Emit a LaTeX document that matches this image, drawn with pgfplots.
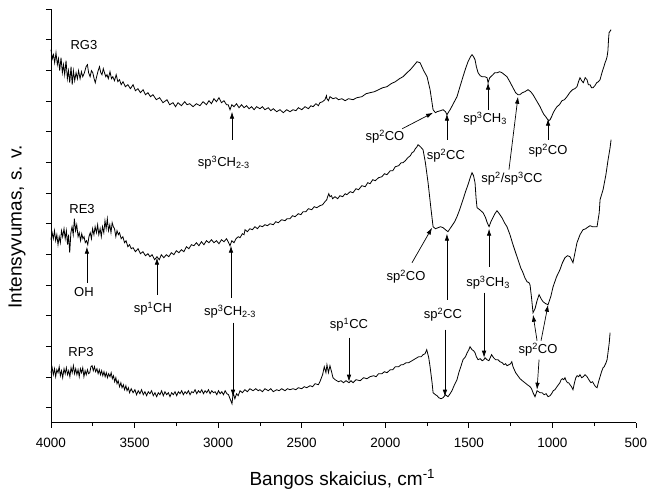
\documentclass[border=0pt]{standalone}
\usepackage{fontspec}
\setmainfont{Liberation Sans}
\usepackage{pgfplots}
\pgfplotsset{compat=1.18}
\usetikzlibrary{arrows.meta}

\newcommand{\ann}{\fontsize{13}{15}\selectfont}

\begin{document}
\begin{tikzpicture}
\begin{axis}[
  name=ax,
  scale only axis,
  width=585pt, height=413.7pt,
  x dir=reverse,
  xmin=500, xmax=4000,
  ymin=0, ymax=413.7,
  axis x line*=bottom,
  axis y line*=left,
  axis line style={-, line width=0.8pt},
  xtick={500,1000,...,4000},
  minor x tick num=1,
  ytick={15.0,45.7,76.4,107.0,137.7,168.4,199.0,229.7,260.4,291.0,321.7,352.4,383.0,413.7},
  minor y tick num=1,
  yticklabels={},
  tick align=outside,
  major tick length=5pt,
  minor tick length=3.5pt,
  tick style={line width=0.8pt, black},
  scaled x ticks=false,
  /pgf/number format/assume math mode=true,
  /pgf/number format/1000 sep={},
  xticklabel style={font=\fontsize{13.5}{16}\selectfont, yshift=-7pt},
  xlabel={Bangos skaicius, cm\textsuperscript{-1}},
  ylabel={Intensyvumas, s. v.},
  label style={font=\fontsize{19}{22}\selectfont},
  xlabel style={at={(axis description cs:0.498,-0.1506)}, anchor=base},
  ylabel style={at={(axis description cs:-0.0581,0.473)}, anchor=center},
  clip=false,
]

% RG3 spectrum
\addplot[black, line width=0.8pt] table {
4000 373
3992 364
3985 368
3978 360
3970 370
3962 358
3955 364
3948 352
3940 365
3932 350
3925 358
3918 348
3910 362
3902 344
3895 352
3888 340
3880 356
3873 338
3866 352
3858 342
3850 350
3842 344
3835 352
3826 344
3818 351
3810 346
3800 350
3790 356
3782 358
3775 350
3766 346
3758 352
3750 350
3742 344
3735 340
3727 346
3718 352
3710 356
3702 350
3695 348
3687 354
3680 350
3672 346
3665 348
3657 344
3647 351
3638 344
3630 346
3620 342
3610 348
3600 341
3590 343
3580 338
3569 341
3555 336
3540 338
3525 334
3509 338
3495 332
3480 334
3465 330
3449 333
3435 328
3420 330
3405 326
3390 328
3370 323
3350 325
3330 320
3306 323
3290 318
3270 320
3255 316
3240 320
3220 317
3200 321
3186 318
3170 319
3150 316
3130 319
3109 317
3090 321
3070 318
3055 322
3040 319
3025 324
3010 321
2995 325
2980 320
2965 322
2950 318
2940 318
2929 313
2918 318
2905 316
2890 319
2875 315
2860 318
2845 315
2830 317
2815 314
2800 316
2785 313
2770 316
2750 314
2735 316
2720 313
2700 315
2685 312
2670 314
2650 311
2630 313
2610 310
2590 313
2570 311
2552 313
2535 312
2520 315
2500 313
2480 316
2460 314
2445 317
2432 316
2415 319
2400 317
2391 320
2375 321
2361 323
2352 327
2349 324
2340 322
2331 326
2313 324
2295 325
2280 323
2260 324
2240 322
2220 324
2193 323
2170 325
2140 326
2115 329
2091 330
2065 331
2040 333
2015 335
1990 336
1965 339
1940 341
1915 344
1894 346
1870 350
1850 353
1830 357
1810 361
1792 360
1770 352
1750 346
1732 333
1714 313
1700 310
1690 311
1670 312
1654 313
1640 311
1631 308
1620 311
1612 313
1590 320
1571 326
1555 335
1535 346
1520 354
1505 361
1490 366
1481 368
1472 366
1463 363
1455 356
1445 350
1432 347
1420 346
1405 346
1391 345
1385 340
1375 345
1356 348
1345 350
1330 350
1316 351
1302 350
1287 348
1272 346
1255 341
1236 335
1220 330
1206 328
1195 328
1180 330
1165 331
1146 333
1130 331
1116 328
1095 322
1074 316
1060 311
1050 308
1040 306
1032 304
1022 302
1014 303
1005 306
995 310
985 313
973 316
958 318
943 322
928 323
913 326
897 330
880 333
866 334
853 336
844 341
835 345
825 342
815 340
804 345
793 343
785 338
775 338
766 335
757 335
746 337
735 340
725 341
715 343
707 348
700 352
692 356
685 360
678 363
673 366
668 372
664 384
661 390
649 393
};

% RE3 spectrum
\addplot[black, line width=0.8pt] table {
4000 183
3993 190
3986 184
3979 192
3972 182
3965 188
3958 178
3951 186
3944 180
3937 192
3930 186
3922 194
3915 184
3908 192
3901 178
3895 188
3888 170
3881 190
3874 196
3867 188
3860 204
3853 192
3846 198
3838 186
3831 190
3823 182
3816 189
3809 184
3802 186
3795 180
3787 182
3780 178
3773 186
3765 190
3758 184
3751 194
3743 188
3736 196
3728 190
3721 198
3714 188
3706 194
3699 186
3692 196
3684 190
3677 202
3670 194
3663 204
3656 192
3648 198
3641 190
3634 200
3627 196
3620 194
3612 186
3605 192
3597 188
3590 190
3580 184
3570 186
3560 180
3551 182
3540 176
3530 178
3520 174
3509 175
3495 171
3479 174
3465 169
3450 171
3435 167
3420 169
3408 166
3395 168
3380 163
3366 166
3352 163
3340 168
3325 165
3310 168
3295 166
3280 170
3265 168
3250 172
3235 170
3220 173
3205 171
3190 176
3175 174
3160 178
3145 177
3130 180
3115 177
3100 181
3085 178
3070 182
3055 180
3040 183
3025 180
3010 182
2995 179
2980 183
2965 181
2950 184
2940 181
2929 177
2918 182
2905 180
2893 184
2880 186
2869 185
2855 189
2845 188
2839 193
2825 191
2810 194
2795 193
2780 196
2765 194
2750 197
2735 196
2720 198
2705 197
2690 199
2670 198
2655 201
2640 200
2620 203
2600 202
2588 204
2570 204
2555 207
2540 206
2520 209
2505 208
2492 211
2475 211
2460 214
2440 213
2425 216
2410 215
2391 217
2375 218
2361 221
2350 223
2345 226
2338 229
2331 226
2322 227
2315 224
2301 226
2285 224
2271 227
2255 226
2240 229
2230 228
2210 231
2193 230
2175 234
2160 233
2140 237
2120 236
2105 240
2091 239
2075 243
2060 242
2040 245
2020 246
2005 249
1990 248
1970 252
1955 252
1940 256
1920 257
1905 260
1894 260
1880 262
1865 265
1850 267
1840 270
1830 271
1820 274
1810 276
1804 278
1790 276
1774 273
1760 260
1744 240
1726 213
1714 196
1700 194
1684 195
1670 196
1654 195
1640 193
1625 191
1613 194
1601 197
1585 201
1571 206
1555 213
1535 223
1520 231
1505 238
1490 246
1481 250
1472 247
1463 240
1457 225
1451 215
1435 213
1415 210
1400 205
1390 200
1379 196
1368 201
1356 205
1344 209
1332 212
1318 209
1302 205
1287 200
1272 196
1254 188
1236 178
1220 170
1206 163
1190 155
1176 150
1165 145
1152 141
1140 140
1134 138
1125 125
1116 110
1104 114
1092 122
1080 128
1068 124
1056 121
1040 119
1026 118
1010 126
996 136
975 146
955 153
940 160
925 165
910 167
895 166
877 160
865 170
853 180
835 188
817 193
800 194
793 195
775 197
760 196
745 196
733 196
720 210
715 223
697 233
680 248
667 263
655 275
649 283
};

% RP3 spectrum
\addplot[black, line width=0.8pt] table {
4000 50
3993 55
3986 48
3979 54
3972 46
3965 53
3958 50
3951 56
3944 47
3937 52
3930 45
3922 54
3915 49
3908 55
3901 48
3894 52
3887 46
3880 55
3873 50
3866 57
3859 49
3852 54
3845 48
3838 53
3831 46
3824 54
3817 50
3810 55
3803 46
3796 52
3789 48
3782 53
3775 49
3768 50
3761 56
3754 57
3747 52
3740 56
3733 51
3725 54
3718 49
3711 53
3704 48
3697 52
3690 47
3683 51
3676 46
3669 50
3662 45
3655 49
3647 46
3640 50
3633 44
3626 47
3619 41
3612 45
3605 39
3598 42
3590 36
3582 40
3575 35
3567 38
3560 33
3552 37
3545 32
3537 35
3530 30
3520 34
3509 30
3498 33
3488 28
3478 32
3468 29
3458 33
3448 28
3438 31
3428 27
3418 31
3408 29
3398 32
3388 27
3378 30
3368 26
3358 30
3348 28
3338 32
3328 27
3318 31
3308 28
3298 30
3288 26
3278 30
3268 28
3258 31
3248 27
3238 31
3228 29
3218 32
3208 28
3198 31
3188 29
3178 32
3168 28
3158 31
3148 30
3138 33
3128 29
3118 32
3108 30
3098 33
3088 29
3078 32
3068 30
3058 33
3048 29
3038 32
3028 30
3018 31
3008 28
2998 32
2988 29
2978 31
2968 28
2958 32
2948 29
2938 28
2929 24
2917 19
2910 30
2900 24
2890 29
2880 27
2869 32
2855 30
2840 33
2825 31
2810 34
2791 32
2775 34
2760 32
2750 33
2735 31
2720 34
2700 32
2685 34
2670 31
2650 33
2635 32
2620 34
2600 32
2585 34
2570 33
2552 34
2535 33
2520 35
2500 34
2485 36
2470 35
2450 37
2435 36
2420 39
2400 38
2391 41
2375 48
2365 56
2355 50
2349 58
2340 50
2331 57
2320 50
2313 45
2300 43
2280 41
2265 42
2250 40
2235 42
2217 40
2205 42
2193 40
2175 43
2150 42
2130 45
2110 44
2091 46
2070 47
2055 46
2040 49
2020 49
2005 51
1990 50
1970 53
1955 53
1940 56
1920 56
1905 58
1894 58
1875 60
1860 60
1840 62
1820 64
1800 66
1785 66
1774 68
1762 69
1752 73
1740 65
1732 56
1720 40
1714 30
1700 28
1690 27
1680 25
1667 24
1654 25
1640 28
1625 26
1612 29
1601 32
1586 38
1571 43
1560 50
1550 55
1535 63
1520 66
1510 70
1500 73
1493 76
1481 73
1472 72
1463 70
1455 66
1445 63
1432 64
1420 62
1410 63
1403 65
1392 63
1380 62
1364 68
1352 65
1340 63
1326 63
1314 61
1300 60
1290 58
1280 59
1272 57
1260 58
1250 59
1243 61
1236 56
1228 53
1220 50
1207 47
1194 44
1180 42
1165 40
1150 38
1134 36
1125 34
1116 30
1104 26
1098 29
1092 32
1083 31
1074 30
1062 30
1050 28
1038 29
1026 26
1014 27
1005 29
995 32
985 33
973 36
964 38
955 40
948 43
940 44
932 43
925 45
918 42
910 40
903 40
895 38
886 36
877 33
868 40
860 45
852 47
843 46
835 48
825 45
815 46
805 48
793 46
782 43
770 40
760 41
750 38
742 36
733 35
724 41
715 46
706 51
697 55
690 56
685 58
679 60
673 63
666 72
660 80
655 90
};

% sample names
\node[font=\ann] at (axis cs:3803,378) {RG3};
\node[font=\ann] at (axis cs:3814,214) {RE3};
\node[font=\ann] at (axis cs:3820,71) {RP3};

% band assignments
\tikzset{band/.style={-{Latex[length=7pt,width=4.5pt]}, line width=0.7pt, black}}

% RG3
\node[font=\ann] at (axis cs:2966,260) {sp\textsuperscript{3}CH\textsubscript{2-3}};
\draw[band] (axis cs:2917,283) -- (axis cs:2917,311);
\node[font=\ann] at (axis cs:2002,286) {sp\textsuperscript{2}CO};
\draw[band] (axis cs:1898,294) -- (axis cs:1714,310);
\node[font=\ann] at (axis cs:1637,267) {sp\textsuperscript{2}CC};
\draw[band] (axis cs:1631,283) -- (axis cs:1631,309);
\node[font=\ann] at (axis cs:1403,304) {sp\textsuperscript{3}CH\textsubscript{3}};
\draw[band] (axis cs:1385,313) -- (axis cs:1385,340);
\node[font=\ann] at (axis cs:1242,244) {sp\textsuperscript{2}/sp\textsuperscript{3}CC};
\draw[band] (axis cs:1260,253) -- (axis cs:1206,326);
\node[font=\ann] at (axis cs:1026,272) {sp\textsuperscript{2}CO};
\draw[band] (axis cs:1026,283) -- (axis cs:1026,304);

% RE3 and RP3
\node[font=\ann] at (axis cs:3803,131) {OH};
\draw[band] (axis cs:3785,140) -- (axis cs:3785,176);
\node[font=\ann] at (axis cs:3390,114) {sp\textsuperscript{1}CH};
\draw[band] (axis cs:3366,128) -- (axis cs:3366,165);
\node[font=\ann] at (axis cs:2929,111) {sp\textsuperscript{3}CH\textsubscript{2-3}};
\draw[band] (axis cs:2923,125) -- (axis cs:2923,177);
\draw[band] (axis cs:2911,100) -- (axis cs:2911,26);
\node[font=\ann] at (axis cs:1876,146) {sp\textsuperscript{2}CO};
\draw[band] (axis cs:1840,160) -- (axis cs:1720,195);
\node[font=\ann] at (axis cs:1655,108) {sp\textsuperscript{2}CC};
\draw[band] (axis cs:1631,123) -- (axis cs:1631,189);
\draw[band] (axis cs:1643,93) -- (axis cs:1643,26);
\node[font=\ann] at (axis cs:1385,140) {sp\textsuperscript{3}CH\textsubscript{3}};
\draw[band] (axis cs:1379,156) -- (axis cs:1379,194);
\draw[band] (axis cs:1409,130) -- (axis cs:1409,65);
\node[font=\ann] at (axis cs:2217,98) {sp\textsuperscript{1}CC};
\draw[band] (axis cs:2217,85) -- (axis cs:2217,41);
\node[font=\ann] at (axis cs:1086,73) {sp\textsuperscript{2}CO};
\draw[band] (axis cs:1092,82) -- (axis cs:1116,108);
\draw[band] (axis cs:1068,82) -- (axis cs:1026,118);
\draw[band] (axis cs:1080,63) -- (axis cs:1092,33);
\end{axis}
\pgfresetboundingbox
\path (ax.south west) ++(-51pt,-65.3pt) rectangle ++(647pt,488pt);
\end{tikzpicture}
\end{document}
